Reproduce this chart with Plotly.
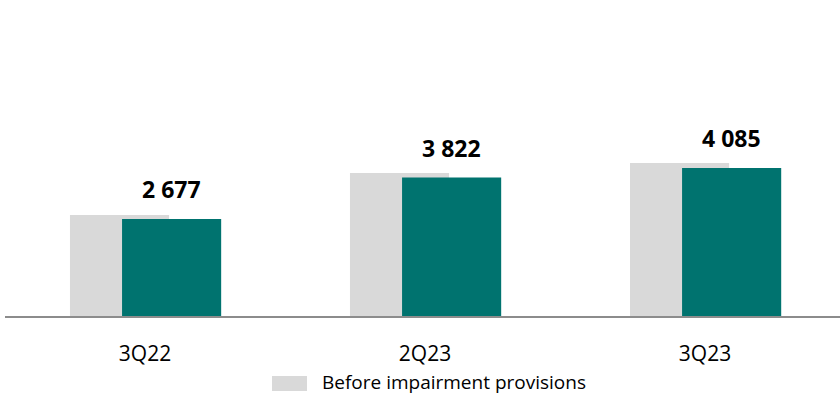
import plotly.graph_objects as go

categories = ["3Q22", "2Q23", "3Q23"]
before_impairment = [2790, 3950, 4225]
after_impairment = [2677, 3822, 4085]
value_labels = ["2 677", "3 822", "4 085"]
legend_label = "Before impairment provisions"

GREY = "#D9D9D9"
TEAL = "#00736F"
FONT = "Open Sans, Noto Sans, sans-serif"

fig = go.Figure()
fig.add_trace(go.Bar(
    x=categories, y=before_impairment, name=legend_label,
    marker=dict(color=GREY, line=dict(width=0)),
    width=0.354, offset=-0.268,
))
fig.add_trace(go.Bar(
    x=categories, y=after_impairment, name="After impairment provisions",
    marker=dict(color=TEAL, line=dict(width=0)),
    width=0.354, offset=-0.082,
))

for c, v, t in zip(categories, after_impairment, value_labels):
    fig.add_annotation(
        x=c, y=v, text="<b>" + t + "</b>", showarrow=False,
        xshift=26, yshift=12, yanchor="bottom",
        font=dict(family=FONT, size=23, color="#000000"),
    )

# legend (swatch + label) below the axis
fig.add_shape(
    type="rect", xref="paper", yref="paper",
    x0=(272 - 5) / 835, x1=(307 - 5) / 835, y0=-(391 - 316) / 316, y1=-(376 - 316) / 316,
    fillcolor=GREY, line=dict(width=0),
)
fig.add_annotation(
    xref="paper", yref="paper", x=(321 - 5) / 835, y=-(382 - 316) / 316,
    xanchor="left", yanchor="middle", text=legend_label, showarrow=False,
    borderpad=0, font=dict(family=FONT, size=19, color="#000000"),
)

fig.update_layout(
    width=840, height=394,
    margin=dict(l=5, r=0, t=0, b=78, autoexpand=False),
    paper_bgcolor="white", plot_bgcolor="white",
    barmode="overlay",
    showlegend=False,
    xaxis=dict(
        range=[-0.5, 2.482], showline=True, linecolor="#8C8C8C", linewidth=1.5,
        showgrid=False, ticks="", tickfont=dict(family=FONT, size=21, color="#000000"),
        ticklabelstandoff=18,
    ),
    yaxis=dict(range=[0, 8722], visible=False, showgrid=False, zeroline=False),
)

fig.write_html("out.html")
